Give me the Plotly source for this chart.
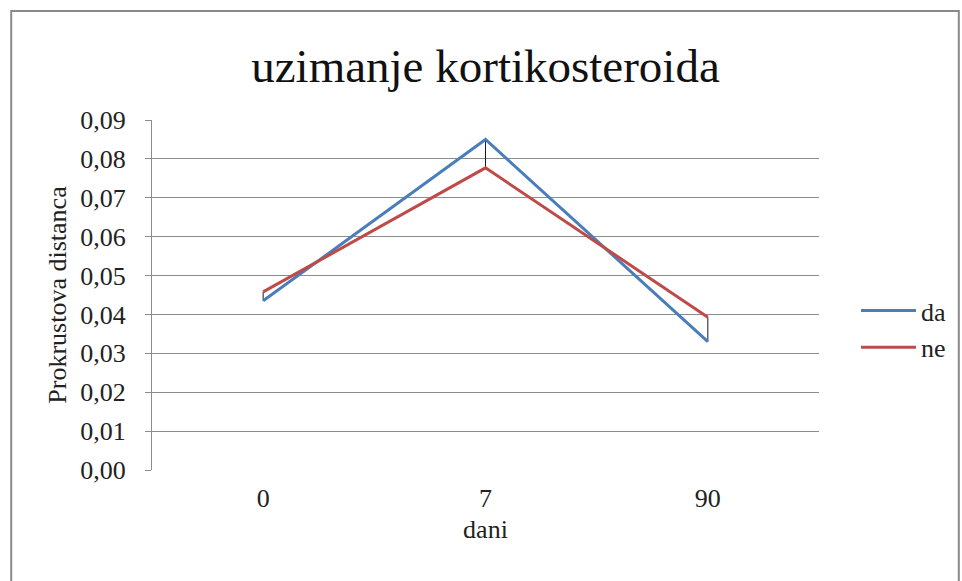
import plotly.graph_objects as go

days = ["0", "7", "90"]
da = [0.0435, 0.0850, 0.0330]
ne = [0.0458, 0.0777, 0.0393]
y_ticks = [0.00, 0.01, 0.02, 0.03, 0.04, 0.05, 0.06, 0.07, 0.08, 0.09]

FONT = "Liberation Serif, Times New Roman, serif"

# high-low connector lines between the two series
hl_x, hl_y = [], []
for d, a, b in zip(days, da, ne):
    hl_x += [d, d, None]
    hl_y += [a, b, None]

fig = go.Figure()
fig.add_trace(go.Scatter(x=hl_x, y=hl_y, mode="lines",
                         line=dict(color="#1a1a1a", width=1),
                         showlegend=False, hoverinfo="skip"))
fig.add_trace(go.Scatter(x=days, y=da, mode="lines", name="da",
                         line=dict(color="#4A7EBB", width=3)))
fig.add_trace(go.Scatter(x=days, y=ne, mode="lines", name="ne",
                         line=dict(color="#BE4B48", width=3)))

# margins chosen so the plot area spans x 152..820, y 120..470
L, R, T, B = 152, 142, 120, 111
W, H = 962, 581
pw, ph = W - L - R, H - T - B

def px(p):
    return (p - L) / pw

def py(p):
    return (H - B - p) / ph

fig.update_layout(
    width=W, height=H,
    margin=dict(l=L, r=R, t=T, b=B),
    paper_bgcolor="white", plot_bgcolor="white",
    separators=",.",
    font=dict(family=FONT, size=26, color="#222222"),
    title=dict(text="uzimanje kortikosteroida", x=0.5, xref="paper",
               y=1 - 66 / H, yanchor="middle",
               font=dict(family=FONT, size=47, color="#111111")),
    xaxis=dict(type="category", range=[-0.5, 2.5], showgrid=False,
               showline=False, ticks="", tickfont=dict(size=26),
               ticklabelstandoff=10,
               title=dict(text="dani", font=dict(size=26), standoff=7)),
    yaxis=dict(range=[0, 0.09], tickvals=y_ticks, tickformat=".2f",
               showgrid=True, gridcolor="#8c8c8c", gridwidth=1,
               showline=True, linecolor="#8c8c8c", linewidth=1,
               ticks="outside", ticklen=6, tickcolor="#8c8c8c",
               ticklabelstandoff=14,
               zeroline=False, tickfont=dict(size=26),
               title=dict(text="Prokrustova distanca", font=dict(size=26),
                          standoff=6)),
    legend=dict(x=px(856), y=py(287), xanchor="left", yanchor="top",
                font=dict(family=FONT, size=26, color="#222222"),
                itemwidth=55, bgcolor="rgba(0,0,0,0)"),
    shapes=[dict(type="rect", xref="paper", yref="paper",
                 x0=px(11), x1=px(960), y0=py(595), y1=py(11),
                 line=dict(color="#8a8a8a", width=2))],
)

fig.write_html("out.html", config={"displayModeBar": False},
               post_script="document.body.style.margin='0';")
